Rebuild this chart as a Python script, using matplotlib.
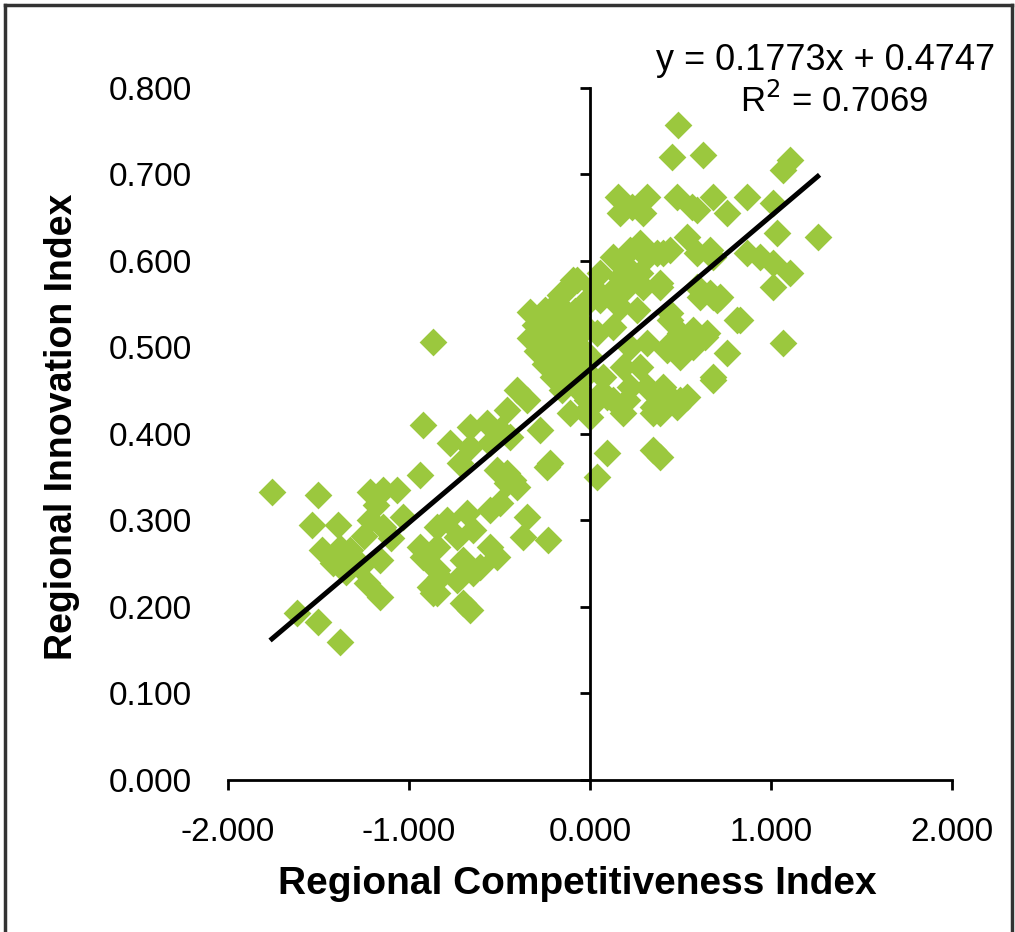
import matplotlib
matplotlib.use("Agg")
import matplotlib.pyplot as plt
import matplotlib.transforms as mtransforms
from matplotlib.lines import Line2D
import numpy as np

# Regional Competitiveness Index (x) / Regional Innovation Index (y)
competitiveness = [
    # far left group
    -1.757, -1.503, -1.215, -1.144, -1.066, -0.939, -0.923, -0.867,
    -1.536, -1.392, -1.215, -1.144, -1.033, -1.481, -1.381, -1.326,
    -1.420, -1.271, -1.160, -1.232, -1.160, -0.939, -0.923, -0.884,
    -0.867, -0.845, -1.619, -1.503, -1.381, -0.845, -1.250, -1.100,
    -1.300, -1.350, -1.180,
    # middle left group
    -0.790, -0.680, -0.552, -0.497, -0.348, -0.370, -0.232, -0.845,
    -0.735, -0.646, -0.552, -0.514, -0.702, -0.608, -0.829, -0.735,
    -0.646, -0.845, -0.702, -0.663, -0.459, -0.403, -0.425, -0.459,
    -0.238, -0.718, -0.773, -0.663, -0.552, -0.442, -0.663, -0.569,
    -0.497, -0.459, -0.403, -0.348, -0.276, -0.110, 0.000, 0.039,
    -0.514, -0.221,
    # dense block left of the axis
    -0.182, -0.072, -0.166, -0.017, -0.094, -0.149,
    -0.331, -0.251, -0.168, -0.085, -0.304, -0.212, -0.120, -0.039,
    -0.329, -0.247, -0.163, -0.081, -0.293, -0.208, -0.124, -0.041,
    -0.249, -0.166, -0.083, -0.204, -0.122, -0.039, -0.155, -0.066,
    -0.276, -0.138, -0.028, -0.182,
    # dense block right of the axis
    0.017, 0.110, 0.204, 0.293, 0.387, 0.127, 0.221, 0.315,
    0.403, 0.204, 0.276, 0.370, 0.442, 0.536, 0.591, 0.680,
    0.055, 0.166, 0.276, 0.387, 0.591, 0.680, 0.608, 0.702,
    -0.017, 0.055, 0.166, 0.260, 0.442, 0.442, 0.569, -0.055,
    0.039, 0.127, 0.497, 0.591, 0.646, 0.221, 0.315, 0.425,
    0.000, 0.680, 0.072, 0.182, 0.276, -0.017, 0.127, 0.221,
    0.315, 0.403, 0.459, 0.497, 0.000, 0.182, 0.348, 0.387,
    0.094, 0.348, 0.387, 0.039, 0.569, 0.497, 0.425, 0.536,
    0.481, 0.370, 0.348, 0.204, 0.094, 0.812, 0.757, 1.066,
    # upper right group
    0.486, 0.453, 0.624, 1.105, 1.066, 0.155, 0.232, 0.315,
    0.293, 0.166, 0.481, 0.564, 0.591, 0.680, 0.757, 0.867,
    1.011, 1.258, 0.867, 0.939, 1.011, 1.105, 1.011, 1.033,
    0.829, 0.680, 0.663, 0.718, 0.663, 0.635,
]
innovation = [
    # far left group
    0.333, 0.329, 0.333, 0.335, 0.335, 0.353, 0.410, 0.506,
    0.295, 0.295, 0.301, 0.292, 0.304, 0.266, 0.268, 0.266,
    0.251, 0.246, 0.254, 0.228, 0.212, 0.269, 0.258, 0.223,
    0.216, 0.243, 0.193, 0.183, 0.160, 0.292, 0.282, 0.280,
    0.255, 0.240, 0.318,
    # middle left group
    0.301, 0.309, 0.312, 0.320, 0.304, 0.281, 0.277, 0.269,
    0.281, 0.289, 0.269, 0.258, 0.254, 0.246, 0.235, 0.231,
    0.239, 0.216, 0.205, 0.197, 0.343, 0.339, 0.347, 0.355,
    0.362, 0.366, 0.390, 0.385, 0.390, 0.397, 0.408, 0.413,
    0.405, 0.428, 0.451, 0.439, 0.405, 0.424, 0.431, 0.443,
    0.358, 0.366,
    # dense block left of the axis
    0.551, 0.578, 0.561, 0.551, 0.578, 0.563,
    0.541, 0.543, 0.539, 0.542, 0.526, 0.528, 0.524, 0.527,
    0.511, 0.509, 0.513, 0.510, 0.496, 0.498, 0.494, 0.497,
    0.481, 0.483, 0.480, 0.466, 0.468, 0.465, 0.451, 0.452,
    0.532, 0.503, 0.474, 0.520,
    # dense block right of the axis
    0.570, 0.563, 0.570, 0.570, 0.570, 0.605, 0.613, 0.605,
    0.609, 0.593, 0.621, 0.609, 0.613, 0.628, 0.609, 0.605,
    0.586, 0.582, 0.586, 0.575, 0.570, 0.558, 0.558, 0.555,
    0.555, 0.555, 0.547, 0.543, 0.532, 0.540, 0.520, 0.517,
    0.517, 0.524, 0.517, 0.512, 0.517, 0.501, 0.505, 0.497,
    0.489, 0.462, 0.466, 0.477, 0.477, 0.439, 0.439, 0.454,
    0.454, 0.454, 0.439, 0.439, 0.420, 0.424, 0.431, 0.424,
    0.378, 0.382, 0.373, 0.350, 0.501, 0.489, 0.501, 0.443,
    0.431, 0.436, 0.424, 0.439, 0.443, 0.532, 0.494, 0.505,
    # upper right group
    0.757, 0.720, 0.723, 0.717, 0.705, 0.674, 0.662, 0.674,
    0.655, 0.655, 0.674, 0.662, 0.659, 0.674, 0.655, 0.674,
    0.667, 0.628, 0.609, 0.605, 0.598, 0.586, 0.570, 0.632,
    0.532, 0.466, 0.563, 0.558, 0.613, 0.512,
]

slope = 0.1773
intercept = 0.4747
r_squared = 0.7069

x_ticks = [-2.0, -1.0, 0.0, 1.0, 2.0]
y_ticks = [0.0, 0.1, 0.2, 0.3, 0.4, 0.5, 0.6, 0.7, 0.8]

plt.rcParams['font.family'] = ['Liberation Sans', 'DejaVu Sans']

fig = plt.figure(figsize=(10.15, 9.32), dpi=100)
ax = fig.add_axes([0.2246, 0.1631, 0.7133, 0.7425])

x = np.array(competitiveness)
y = np.array(innovation)

# точки
ax.scatter(x, y, marker='D', s=200, color='#9BC83E', linewidths=0, zorder=2)

# линия тренда по диапазону данных
xs = np.array([x.min(), x.max()])
ax.plot(xs, slope * xs + intercept, color='black', linewidth=3.6, zorder=3)

ax.set_xlim(-2, 2)
ax.set_ylim(0, 0.8)

# оси как в Excel: вертикальная ось проходит через x = 0
ax.spines['top'].set_visible(False)
ax.spines['right'].set_visible(False)
ax.spines['left'].set_position(('data', 0))
ax.spines['left'].set_linewidth(2.0)
ax.spines['bottom'].set_linewidth(2.0)

ax.set_xticks(x_ticks)
ax.set_xticklabels([f'{v:.3f}' for v in x_ticks], fontsize=24)
ax.tick_params(axis='x', direction='out', length=7, width=2, pad=20)

ax.set_yticks(y_ticks)
ax.set_yticklabels([])
ax.tick_params(axis='y', direction='out', length=7, width=2)

# подписи оси Y стоят слева от области графика
trans = mtransforms.blended_transform_factory(ax.transAxes, ax.transData)
for v in y_ticks:
    ax.text(-0.05, v, f'{v:.3f}', transform=trans, ha='right',
            va='center_baseline', fontsize=24)

ax.set_xlabel('Regional Competitiveness Index', fontsize=28, fontweight='bold')
ax.xaxis.set_label_coords(0.482, -0.124)
ax.set_ylabel('Regional Innovation Index', fontsize=27, fontweight='bold')
ax.yaxis.set_label_coords(-0.205, 0.51)

fig.text(826 / 1015, 1 - 60 / 932, f'y = {slope}x + {intercept}', ha='center',
         va='center', fontsize=26)
fig.text(834 / 1015, 1 - 101 / 932, f'R$^2$ = {r_squared}', ha='center',
         va='center', fontsize=25)

# рамка вокруг рисунка
for xd, yd in [([5, 5], [932, 5]), ([5, 1012], [5, 5]), ([1012, 1012], [5, 932])]:
    fig.add_artist(Line2D([v / 1015 for v in xd], [1 - v / 932 for v in yd],
                          color='#333333', linewidth=2.5))

fig.savefig('out.png', dpi=100)
